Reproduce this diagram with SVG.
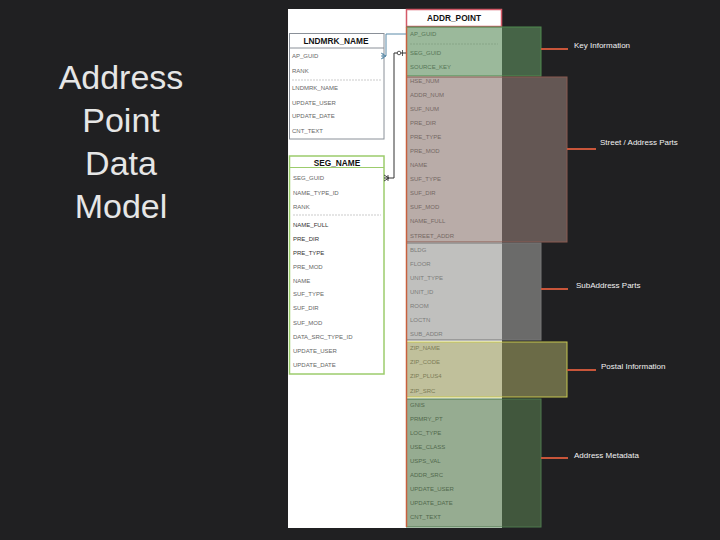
<svg xmlns="http://www.w3.org/2000/svg" width="720" height="540" viewBox="0 0 720 540">
<defs>
<style>
.title{font-family:"Liberation Sans",Arial,sans-serif;font-size:34px;fill:#e6e6e6;text-anchor:middle;font-weight:300}
.th{font-family:"Liberation Sans",Arial,sans-serif;font-size:8.3px;font-weight:bold;fill:#111;text-anchor:middle}
.f{font-family:"Liberation Sans",Arial,sans-serif;font-size:6px;fill:#666}
.fd{font-family:"Liberation Sans",Arial,sans-serif;font-size:6px;fill:#333}
.fa{font-family:"Liberation Sans",Arial,sans-serif;font-size:6px;fill:#4a4a4a}
.lbl{font-family:"Liberation Sans",Arial,sans-serif;font-size:8px;fill:#f2f2f2}
.lead{stroke:#c8553a;stroke-width:2}
.sep{stroke:#aaa;stroke-width:0.6;stroke-dasharray:2 1}
</style>
</defs>
<rect x="0" y="0" width="720" height="540" fill="#202022"/>
<g id="title">
<text class="title" x="121" y="89">Address</text>
<text class="title" x="121" y="132">Point</text>
<text class="title" x="121" y="175">Data</text>
<text class="title" x="121" y="218">Model</text>
</g>
<rect x="288" y="9" width="214" height="519" fill="#ffffff"/>
<g id="lndmrk_name">
<rect x="289.5" y="33.5" width="94.5" height="105.5" fill="#fff" stroke="#8a9098" stroke-width="1"/>
<line x1="289.5" y1="48" x2="384" y2="48" stroke="#8a9098" stroke-width="1"/>
<text class="th" x="336" y="44">LNDMRK_NAME</text>
<text class="f" x="292" y="58">AP_GUID</text>
<text class="f" x="292" y="73">RANK</text>
<line class="sep" x1="292" y1="80" x2="381" y2="80"/>
<text class="f" x="292" y="90">LNDMRK_NAME</text>
<text class="f" x="292" y="105">UPDATE_USER</text>
<text class="f" x="292" y="118">UPDATE_DATE</text>
<text class="f" x="292" y="133">CNT_TEXT</text>
</g>
<g id="seg_name">
<rect x="289.5" y="156" width="94.5" height="218" fill="#fff" stroke="#9ccc6c" stroke-width="1.5"/>
<line x1="289.5" y1="167.5" x2="384" y2="167.5" stroke="#9ccc6c" stroke-width="1.2"/>
<text class="th" x="337" y="165.5">SEG_NAME</text>
<text class="f" x="293" y="180">SEG_GUID</text>
<text class="f" x="293" y="195">NAME_TYPE_ID</text>
<text class="f" x="293" y="209">RANK</text>
<line class="sep" x1="293" y1="215" x2="381" y2="215"/>
<text class="fd" x="293" y="227">NAME_FULL</text>
<text class="fd" x="293" y="241">PRE_DIR</text>
<text class="fd" x="293" y="255">PRE_TYPE</text>
<text class="f" x="293" y="269">PRE_MOD</text>
<text class="f" x="293" y="283">NAME</text>
<text class="f" x="293" y="296">SUF_TYPE</text>
<text class="f" x="293" y="310">SUF_DIR</text>
<text class="f" x="293" y="325">SUF_MOD</text>
<text class="f" x="293" y="339">DATA_SRC_TYPE_ID</text>
<text class="f" x="293" y="353">UPDATE_USER</text>
<text class="f" x="293" y="367">UPDATE_DATE</text>
</g>
<g id="addr_point">
<rect x="406.5" y="9.5" width="95" height="17" fill="#fff" stroke="#d45a68" stroke-width="1.5"/>
<text class="th" x="454" y="21">ADDR_POINT</text>
<text class="fa" x="410" y="36">AP_GUID</text>
<line class="sep" x1="410" y1="44" x2="498" y2="44"/>
<text class="fa" x="410" y="55">SEG_GUID</text>
<text class="fa" x="410" y="69">SOURCE_KEY</text>
<text class="fa" x="410" y="83">HSE_NUM</text>
<text class="fa" x="410" y="97">ADDR_NUM</text>
<text class="fa" x="410" y="111">SUF_NUM</text>
<text class="fa" x="410" y="125">PRE_DIR</text>
<text class="fa" x="410" y="139">PRE_TYPE</text>
<text class="fa" x="410" y="153">PRE_MOD</text>
<text class="fa" x="410" y="167">NAME</text>
<text class="fa" x="410" y="181">SUF_TYPE</text>
<text class="fa" x="410" y="195">SUF_DIR</text>
<text class="fa" x="410" y="209">SUF_MOD</text>
<text class="fa" x="410" y="223">NAME_FULL</text>
<text class="fa" x="410" y="238">STREET_ADDR</text>
<text class="fa" x="410" y="252">BLDG</text>
<text class="fa" x="410" y="266">FLOOR</text>
<text class="fa" x="410" y="280">UNIT_TYPE</text>
<text class="fa" x="410" y="294">UNIT_ID</text>
<text class="fa" x="410" y="308">ROOM</text>
<text class="fa" x="410" y="322">LOCTN</text>
<text class="fa" x="410" y="336">SUB_ADDR</text>
<text class="fa" x="410" y="350">ZIP_NAME</text>
<text class="fa" x="410" y="364">ZIP_CODE</text>
<text class="fa" x="410" y="378">ZIP_PLUS4</text>
<text class="fa" x="410" y="393">ZIP_SRC</text>
<text class="fa" x="410" y="407">GNIS</text>
<text class="fa" x="410" y="421">PRMRY_PT</text>
<text class="fa" x="410" y="435">LOC_TYPE</text>
<text class="fa" x="410" y="449">USE_CLASS</text>
<text class="fa" x="410" y="463">USPS_VAL</text>
<text class="fa" x="410" y="477">ADDR_SRC</text>
<text class="fa" x="410" y="491">UPDATE_USER</text>
<text class="fa" x="410" y="505">UPDATE_DATE</text>
<text class="fa" x="410" y="519">CNT_TEXT</text>
</g>
<g id="overlays">
<rect id="key" x="406.5" y="27" width="134.5" height="49" fill="rgb(94,142,94)" fill-opacity="0.62" stroke="#4e8a4e" stroke-width="1"/>
<rect id="street" x="406.5" y="77" width="160.5" height="165" fill="rgb(142,121,115)" fill-opacity="0.62" stroke="#8a5a50" stroke-width="1"/>
<rect id="subaddr" x="406.5" y="243" width="134.5" height="97" fill="rgb(153,153,150)" fill-opacity="0.62" stroke="#777" stroke-width="1"/>
<rect id="postal" x="406.5" y="342" width="160.5" height="55" fill="rgb(153,153,94)" fill-opacity="0.62" stroke="#c8c850" stroke-width="1"/>
<rect id="meta" x="406.5" y="399" width="134.5" height="128" fill="rgb(85,121,77)" fill-opacity="0.62" stroke="#4e7a4e" stroke-width="1"/>
<line x1="406.5" y1="27" x2="406.5" y2="527" stroke="#c8603e" stroke-width="1.5"/>
</g>
<g id="connectors" fill="none">
<path d="M384 56 H386 V34 H406" stroke="#5a8aa8" stroke-width="1"/>
<path d="M381 53 L386 56 L381 59 M381 56 H386 M383 53 V59" stroke="#5a8aa8" stroke-width="0.9"/>
<path d="M384 178 H394 V53 H406" stroke="#333" stroke-width="1"/>
<path d="M384 175 L389 178 L384 181 M388 175 V181" stroke="#333" stroke-width="0.9"/>
<circle cx="399" cy="53" r="1.8" fill="#fff" stroke="#333" stroke-width="0.8"/>
<line x1="402.5" y1="50" x2="402.5" y2="56" stroke="#333" stroke-width="0.8"/>
</g>
<g id="labels">
<line class="lead" x1="541" y1="49" x2="568" y2="49"/>
<text class="lbl" x="574" y="48">Key Information</text>
<line class="lead" x1="567" y1="149" x2="596" y2="149"/>
<text class="lbl" x="600" y="145">Street / Address Parts</text>
<line class="lead" x1="541" y1="289" x2="568" y2="289"/>
<text class="lbl" x="576" y="288">SubAddress Parts</text>
<line class="lead" x1="567" y1="370" x2="596" y2="370"/>
<text class="lbl" x="601" y="369">Postal Information</text>
<line class="lead" x1="541" y1="458" x2="568" y2="458"/>
<text class="lbl" x="574" y="458">Address Metadata</text>
</g>
</svg>
